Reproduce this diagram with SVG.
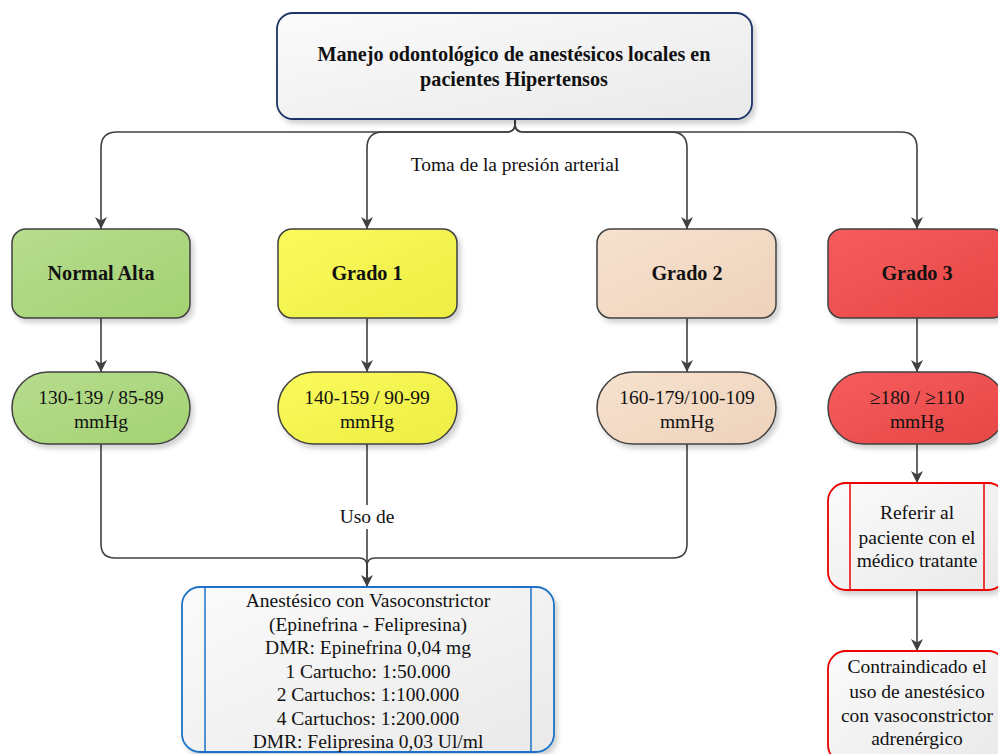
<svg xmlns="http://www.w3.org/2000/svg" width="998" height="754" viewBox="0 0 998 754">
  <defs>
    <style>
      text { font-family: "Liberation Serif", "Times New Roman", serif; font-size: 19.5px; fill: #111; text-anchor: middle; }
      .b { font-weight: bold; font-size: 20.2px; }
      .node { stroke: #404040; stroke-width: 1.5; filter: url(#sh); }
      .conn { fill: none; stroke: #404040; stroke-width: 1.6; }
      .arrow { marker-end: url(#arr); }
    </style>
    <filter id="sh" x="-10%" y="-10%" width="130%" height="140%">
      <feDropShadow dx="3" dy="4" stdDeviation="2.5" flood-color="#000" flood-opacity="0.18"/>
    </filter>
    <linearGradient id="gGrey" x1="0" y1="0" x2="1" y2="1">
      <stop offset="0" stop-color="#fbfbfb"/>
      <stop offset="1" stop-color="#e9e9e9"/>
    </linearGradient>
    <linearGradient id="gGreen" x1="0" y1="0" x2="1" y2="1">
      <stop offset="0" stop-color="#b7dc8e"/>
      <stop offset="1" stop-color="#a3d272"/>
    </linearGradient>
    <linearGradient id="gYellow" x1="0" y1="0" x2="1" y2="1">
      <stop offset="0" stop-color="#fafa5c"/>
      <stop offset="1" stop-color="#eded44"/>
    </linearGradient>
    <linearGradient id="gPeach" x1="0" y1="0" x2="1" y2="1">
      <stop offset="0" stop-color="#f6e2cf"/>
      <stop offset="1" stop-color="#eed2ba"/>
    </linearGradient>
    <linearGradient id="gRed" x1="0" y1="0" x2="1" y2="1">
      <stop offset="0" stop-color="#f75c5c"/>
      <stop offset="1" stop-color="#e64646"/>
    </linearGradient>
    <marker id="arr" viewBox="0 0 12 12" refX="12" refY="6" markerWidth="12" markerHeight="12" markerUnits="userSpaceOnUse" orient="auto">
      <path d="M0,0 L12,6 L0,12 L3.5,6 z" fill="#404040"/>
    </marker>
  </defs>

  <rect width="998" height="754" fill="#ffffff"/>

  <!-- connectors -->
  <g id="connectors">
    <path class="conn arrow" d="M515,119 V124 Q515,132 507,132 H117 Q101,132 101,148 V229"/>
    <path class="conn arrow" d="M515,119 V124 Q515,132 507,132 H383 Q367,132 367,148 V229"/>
    <path class="conn arrow" d="M515,119 V124 Q515,132 523,132 H671 Q687,132 687,148 V229"/>
    <path class="conn arrow" d="M515,119 V124 Q515,132 523,132 H901 Q917,132 917,148 V229"/>
    <text x="515" y="171">Toma de la presión arterial</text>

    <path class="conn arrow" d="M101,318 V372"/>
    <path class="conn arrow" d="M367,318 V372"/>
    <path class="conn arrow" d="M687,318 V372"/>
    <path class="conn arrow" d="M917,318 V372"/>

    <path class="conn" d="M101,444 V544 Q101,558 115,558 H359 Q367,558 367,566 V587"/>
    <path class="conn" d="M687,444 V544 Q687,558 673,558 H375 Q367,558 367,566 V587"/>
    <path class="conn" d="M367,444 V505"/>
    <path class="conn arrow" d="M367,529 V587"/>
    <text x="367" y="523">Uso de</text>

    <path class="conn arrow" d="M917,444 V483"/>
    <path class="conn arrow" d="M917,590 V651"/>
  </g>

  <!-- title -->
  <g id="title">
    <rect x="277" y="13" width="475" height="106" rx="16" fill="url(#gGrey)" stroke="#1a3468" stroke-width="1.8" filter="url(#sh)"/>
    <text class="b" x="514" y="61">Manejo odontológico de anestésicos locales en</text>
    <text class="b" x="514" y="86">pacientes Hipertensos</text>
  </g>

  <!-- classification -->
  <g id="normal-alta">
    <rect class="node" x="12" y="229" width="178" height="89" rx="14" fill="url(#gGreen)"/>
    <text class="b" x="101" y="280">Normal Alta</text>
  </g>
  <g id="grado-1">
    <rect class="node" x="278" y="229" width="179" height="89" rx="14" fill="url(#gYellow)"/>
    <text class="b" x="367" y="280">Grado 1</text>
  </g>
  <g id="grado-2">
    <rect class="node" x="597" y="229" width="179" height="89" rx="14" fill="url(#gPeach)"/>
    <text class="b" x="687" y="280">Grado 2</text>
  </g>
  <g id="grado-3">
    <rect class="node" x="828" y="229" width="178" height="89" rx="14" fill="url(#gRed)"/>
    <text class="b" x="917" y="280">Grado 3</text>
  </g>

  <!-- pressure ranges -->
  <g id="rango-normal-alta">
    <rect class="node" x="12" y="372" width="178" height="72" rx="36" fill="url(#gGreen)"/>
    <text x="101" y="404">130-139 / 85-89</text>
    <text x="101" y="428">mmHg</text>
  </g>
  <g id="rango-grado-1">
    <rect class="node" x="278" y="372" width="179" height="72" rx="36" fill="url(#gYellow)"/>
    <text x="367" y="404">140-159 / 90-99</text>
    <text x="367" y="428">mmHg</text>
  </g>
  <g id="rango-grado-2">
    <rect class="node" x="597" y="372" width="179" height="72" rx="36" fill="url(#gPeach)"/>
    <text x="687" y="404">160-179/100-109</text>
    <text x="687" y="428">mmHg</text>
  </g>
  <g id="rango-grado-3">
    <rect class="node" x="828" y="372" width="178" height="72" rx="36" fill="url(#gRed)"/>
    <text x="917" y="404">≥180 / ≥110</text>
    <text x="917" y="428">mmHg</text>
  </g>

  <!-- anaesthetic with vasoconstrictor -->
  <g id="anestesico">
    <rect x="182" y="587" width="372" height="165" rx="18" fill="url(#gGrey)" stroke="#1f72c6" stroke-width="1.8" filter="url(#sh)"/>
    <path d="M205,587 V752 M531,587 V752" stroke="#1f72c6" stroke-width="1.5"/>
    <text x="368" y="607">Anestésico con Vasoconstrictor</text>
    <text x="368" y="631">(Epinefrina - Felipresina)</text>
    <text x="368" y="654">DMR: Epinefrina 0,04 mg</text>
    <text x="368" y="678">1 Cartucho: 1:50.000</text>
    <text x="368" y="701">2 Cartuchos: 1:100.000</text>
    <text x="368" y="725">4 Cartuchos: 1:200.000</text>
    <text x="368" y="748">DMR: Felipresina 0,03 Ul/ml</text>
  </g>

  <!-- referral -->
  <g id="referir">
    <rect x="828" y="483" width="178" height="107" rx="18" fill="url(#gGrey)" stroke="#ee0000" stroke-width="1.8" filter="url(#sh)"/>
    <path d="M850,483 V590 M984,483 V590" stroke="#ee0000" stroke-width="1.5"/>
    <text x="917" y="519">Referir al</text>
    <text x="917" y="544">paciente con el</text>
    <text x="917" y="567">médico tratante</text>
  </g>

  <!-- contraindication -->
  <g id="contraindicado">
    <rect x="828" y="651" width="178" height="112" rx="18" fill="url(#gGrey)" stroke="#ee0000" stroke-width="1.8" filter="url(#sh)"/>
    <text x="917" y="673">Contraindicado el</text>
    <text x="917" y="698">uso de anestésico</text>
    <text x="917" y="722">con vasoconstrictor</text>
    <text x="917" y="745">adrenérgico</text>
  </g>
</svg>
